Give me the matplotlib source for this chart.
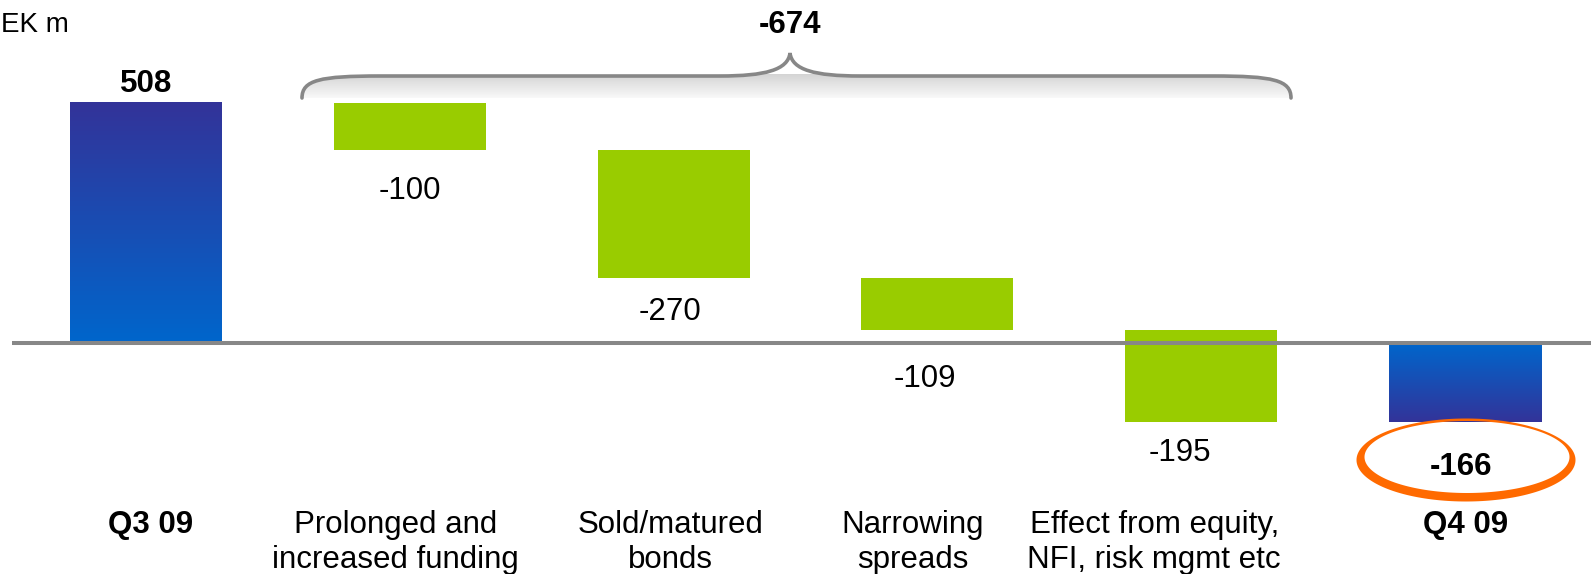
import numpy as np
import matplotlib
matplotlib.use("Agg")
import matplotlib.pyplot as plt
from matplotlib.path import Path
from matplotlib.patches import PathPatch
from matplotlib.colors import LinearSegmentedColormap

plt.rcParams['font.family'] = ['Liberation Sans', 'DejaVu Sans']

# ── data ──────────────────────────────────────────────────────────────────────
categories = ['Q3 09', 'Prolonged and\nincreased funding', 'Sold/matured\nbonds',
              'Narrowing\nspreads', 'Effect from equity,\nNFI, risk mgmt etc', 'Q4 09']
values = [508, -100, -270, -109, -195, -166]
is_total = [True, False, False, False, False, True]
bracket_total = -674
unit_label = 'EK m'          # "SEK m", clipped at the slide's left edge

# ── layout (figure pixels) ────────────────────────────────────────────────────
W, H = 1591, 574
X0, DX = 146, 263.8          # first bar centre, bar spacing
Y0, PPU = 343.3, 0.4734      # zero line, pixels per SEK m
BAR_W = 152 / DX
FS = 22.5

GREEN = '#99cc00'
BLUE_NEAR, BLUE_FAR = '#0066cc', '#333399'
GREY = '#878787'
ORANGE = '#ff6a00'

# label nudges (px)
cat_dx = [5, -14, -3, -25, -47, 1]
val_dx = [0, 0, -4, -13, -21, -4]
val_dy = [18.5, 41, 34, 49, 31, 45]


def px_x(px):
    return (px - X0) / DX


def px_y(py):
    return (Y0 - py) / PPU


fig = plt.figure(figsize=(W / 100, H / 100), dpi=100)
ax = fig.add_axes([0, 0, 1, 1])
ax.axis('off')

# waterfall geometry
bottoms, tops = [], []
running = 0
for v, tot in zip(values, is_total):
    if tot:
        lo, hi = min(0, v), max(0, v)
        running = v
    else:
        lo, hi = min(running, running + v), max(running, running + v)
        running += v
    bottoms.append(lo)
    tops.append(hi)

x = np.arange(len(values))
blue_cmap = LinearSegmentedColormap.from_list('blu', [BLUE_NEAR, BLUE_FAR])
grad = np.linspace(0, 1, 256)[:, None]

for i, (v, tot) in enumerate(zip(values, is_total)):
    if tot:
        g = grad if v > 0 else grad[::-1]
        ax.imshow(g, cmap=blue_cmap, aspect='auto', origin='lower',
                  extent=(x[i] - BAR_W / 2, x[i] + BAR_W / 2, bottoms[i], tops[i]),
                  interpolation='bicubic', zorder=2)
    else:
        ax.bar(x[i], tops[i] - bottoms[i], bottom=bottoms[i], width=BAR_W,
               color=GREEN, linewidth=0, zorder=2)

# zero line on top of bars
ax.plot([px_x(12), px_x(W + 5)], [0, 0], color=GREY, lw=2.9, zorder=3,
        solid_capstyle='butt')

# value labels
for i, (v, tot) in enumerate(zip(values, is_total)):
    if v > 0:
        y = tops[i] + val_dy[i] / PPU
    else:
        y = bottoms[i] - val_dy[i] / PPU
    ax.text(x[i] + val_dx[i] / DX, y, f'{v}', ha='center', va='center',
            fontsize=FS, fontweight='bold' if tot else 'normal', zorder=4)

# category labels
for i, c in enumerate(categories):
    ax.text(x[i] + cat_dx[i] / DX, px_y(510), c, ha='center', va='top',
            fontsize=FS, linespacing=1.22,
            fontweight='bold' if is_total[i] else 'normal')

# ── curly brace over the movement bars ──────────────────────────────────────
bl, br, bp = 302, 1291, 790
ytip, yline, ypeak = 98, 76, 53
brace_px = [
    (bl, ytip), (bl, 80), (bl + 18, yline), (bl + 78, yline),
    (bp - 70, yline),
    (bp - 25, yline), (bp - 2, 70), (bp, ypeak),
    (bp + 2, 70), (bp + 25, yline), (bp + 70, yline),
    (br - 78, yline),
    (br - 18, yline), (br, 80), (br, ytip),
]
codes = [Path.MOVETO, Path.CURVE4, Path.CURVE4, Path.CURVE4,
         Path.LINETO,
         Path.CURVE4, Path.CURVE4, Path.CURVE4,
         Path.CURVE4, Path.CURVE4, Path.CURVE4,
         Path.LINETO,
         Path.CURVE4, Path.CURVE4, Path.CURVE4]
verts = [(px_x(a), px_y(b)) for a, b in brace_px]

# soft shadow below the brace
shadow = Path(verts + [verts[0]], codes + [Path.LINETO])
shade_cmap = LinearSegmentedColormap.from_list('sh', ['#ffffff', '#d4d4d4'])
im = ax.imshow(np.linspace(0, 1, 256)[:, None], cmap=shade_cmap, aspect='auto',
               origin='lower', extent=(px_x(bl), px_x(br), px_y(102), px_y(74)),
               interpolation='bicubic', zorder=1)
sp = PathPatch(shadow, transform=ax.transData, facecolor='none', edgecolor='none')
ax.add_patch(sp)
im.set_clip_path(sp)

ax.add_patch(PathPatch(Path(verts, codes), facecolor='none', edgecolor=GREY,
                       lw=2.6, capstyle='round', zorder=3))
ax.text(px_x(bp), px_y(25), f'{bracket_total}', ha='center', va='center',
        fontsize=FS, fontweight='bold')

# ── hand-drawn orange ring around the Q4 figure ───────────────────────────────
t = np.linspace(0, 2 * np.pi, 200)
cx, cy = 1466, 460
outer = [(px_x(cx + 109.5 * np.cos(a)), px_y(cy + 41.5 * np.sin(a))) for a in t]
inner = [(px_x(cx + 1 + 102.5 * np.cos(a)), px_y(cy - 3 + 36 * np.sin(a))) for a in t[::-1]]
ring = Path(outer + inner,
            [Path.MOVETO] + [Path.LINETO] * (len(outer) - 1) +
            [Path.MOVETO] + [Path.LINETO] * (len(inner) - 1))
ax.add_patch(PathPatch(ring, facecolor=ORANGE, edgecolor='none', zorder=3))

# unit label at the top-left corner
fig.text(1 / W, 1 - 12 / H, unit_label, ha='left', va='top', fontsize=20)

ax.set_xlim(px_x(0), px_x(W))
ax.set_ylim(px_y(H), px_y(0))

fig.savefig('out.png', dpi=100)
